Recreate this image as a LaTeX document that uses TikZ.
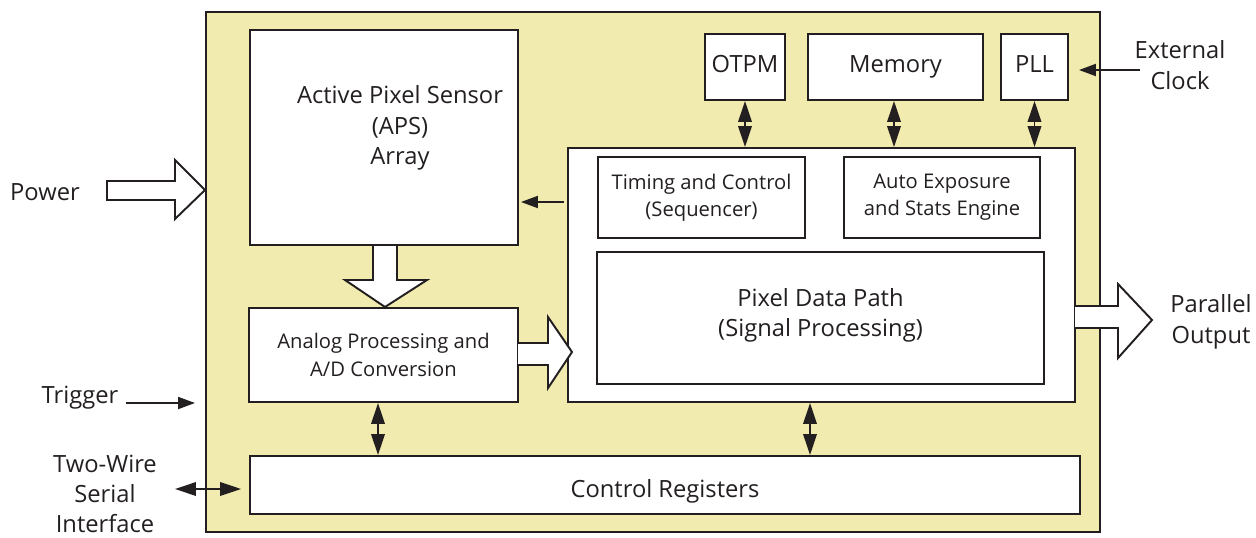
\documentclass[tikz,border=0pt]{standalone}
\usepackage{fontspec}
\setmainfont{Open Sans}
\usetikzlibrary{arrows.meta}
\definecolor{chipyellow}{HTML}{F2EBB0}
\definecolor{ink}{HTML}{231F20}

\begin{document}
\begin{tikzpicture}[x=0.02cm,y=-0.02cm,line width=1.1pt,draw=ink,text=ink,
    box/.style={draw=ink,fill=white,inner sep=0pt,align=center,font=\fontsize{13.5}{17.5}\selectfont},
    smallbox/.style={box,font=\fontsize{11.5}{15.5}\selectfont},
    oneline/.style={text height=0.34cm,text depth=0.1cm},
    lbl/.style={align=center,font=\fontsize{13.5}{17.5}\selectfont,inner sep=1pt},
    arr/.style={-{Triangle[length=0.34cm,width=0.24cm]}},
    dbl/.style={{Triangle[length=0.42cm,width=0.27cm]}-{Triangle[length=0.42cm,width=0.27cm]}},
    blockarrow/.style={draw=ink,fill=white,line width=1.1pt,line join=miter}]
    \useasboundingbox (0,0) rectangle (1256,537);

    \node[draw=ink,fill=chipyellow,inner sep=0pt,minimum width=17.88cm,minimum height=10.4cm](chip) at (653,272){};

    \draw[blockarrow](373,245)--(373,280)--(345,280)--(385,307)--(427,280)--(397,280)--(397,245);

    \node[box,minimum width=5.36cm,minimum height=4.3cm](aps) at (384,137.5){};
    \node[lbl](apstext) at (400,128){Active Pixel Sensor\\(APS)\\Array};
    \node[smallbox,minimum width=5.38cm,minimum height=1.88cm](adc) at (383.5,355){Analog Processing and\\A/D Conversion};
    \node[box,minimum width=10.14cm,minimum height=5.08cm](core) at (821.5,275){};
    \node[smallbox,minimum width=4.14cm,minimum height=1.62cm](timing) at (701.5,197.5){Timing and Control\\(Sequencer)};
    \node[smallbox,minimum width=3.92cm,minimum height=1.62cm](aec) at (942,197.5){Auto Exposure\\and Stats Engine};
    \node[box,minimum width=8.94cm,minimum height=2.64cm,text depth=0.22cm](datapath) at (820.5,318){Pixel Data Path\\(Signal Processing)};
    \node[box,oneline,minimum width=1.6cm,minimum height=1.32cm](otpm) at (745,67){OTPM};
    \node[box,oneline,minimum width=3.5cm,minimum height=1.32cm](memory) at (895.5,67){Memory};
    \node[box,oneline,minimum width=1.34cm,minimum height=1.32cm](pll) at (1034.5,67){PLL};
    \node[box,minimum width=16.6cm,minimum height=1.16cm,text height=0.58cm,text depth=0.1cm](ctrlreg) at (665,485){Control Registers};

    \draw[blockarrow](518,343)--(548,343)--(548,317)--(572,352)--(548,388)--(548,365)--(518,365);
    \draw[blockarrow](1075,306)--(1118,306)--(1118,284)--(1152,320)--(1118,358)--(1118,328)--(1075,328);
    \draw[blockarrow](107,181)--(175,181)--(175,160)--(205,190)--(175,219)--(175,200)--(107,200)--cycle;

    \draw[dbl](otpm.south)--(otpm.south|-core.north);
    \draw[dbl]([xshift=-0.03cm]memory.south)--([xshift=-0.03cm]memory.south|-core.north);
    \draw[dbl](pll.south)--(pll.south|-core.north);
    \draw[dbl]([xshift=-0.11cm]adc.south)--([xshift=-0.11cm]adc.south|-ctrlreg.north);
    \draw[dbl]([xshift=-0.23cm]core.south)--([xshift=-0.23cm]core.south|-ctrlreg.north);
    \draw[arr]([xshift=-0.06cm]core.west|-0,202)--([xshift=0.04cm]aps.east|-0,202);

    \node[lbl](power) at (45,192){Power};
    \node[lbl](trigger) at (80,398){Trigger};
    \node[lbl,font=\fontsize{13.5}{17}\selectfont](serial) at (105,494){Two-Wire\\Serial\\Interface};
    \node[lbl](clock) at (1180,65){External\\Clock};
    \node[lbl](parallel) at (1211,322){Parallel\\Output};

    \draw[arr]([xshift=0.1cm,yshift=-0.1cm]trigger.east)--(195,403);
    \draw[dbl](175,489)--([xshift=-0.16cm]ctrlreg.west|-0,489);
    \draw[arr](1140,70)--([xshift=0.2cm]pll.east|-0,70);
\end{tikzpicture}
\end{document}
